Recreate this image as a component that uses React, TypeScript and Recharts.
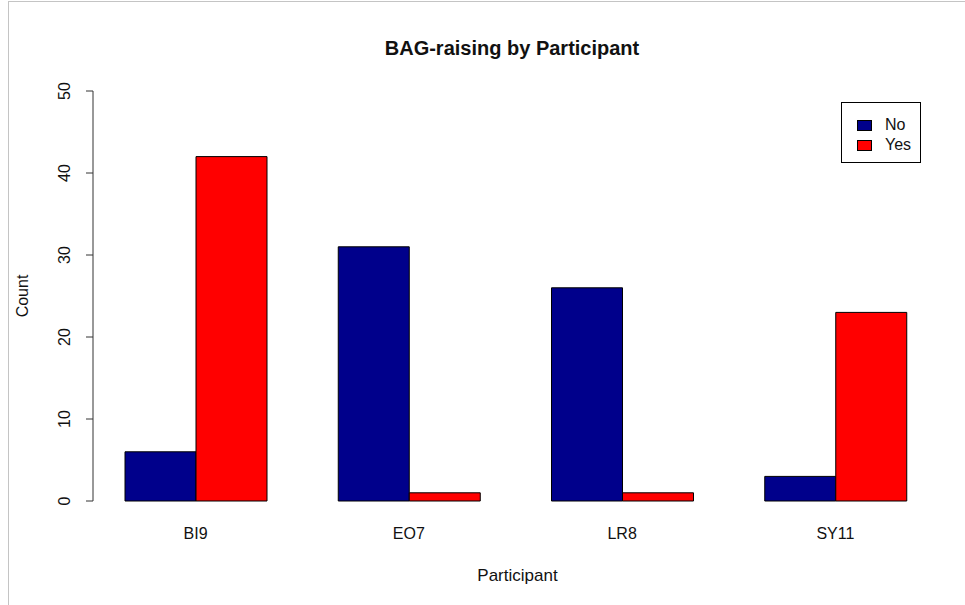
import { BarChart, Bar, XAxis, YAxis } from "recharts";

const participants = ["BI9", "EO7", "LR8", "SY11"];
const noCounts = [6, 31, 26, 3];
const yesCounts = [42, 1, 1, 23];
const yTicks = [0, 10, 20, 30, 40, 50];

const FONT = "'Liberation Sans', Arial, sans-serif";
const NO_COLOR = "#00008b";
const YES_COLOR = "#ff0000";

const data = participants.map((p, i) => ({
  participant: p,
  No: noCounts[i],
  Yes: yesCounts[i],
}));

function XTick(props: any) {
  const { x, y, payload } = props;
  return (
    <text
      x={x}
      y={y + 24}
      textAnchor="middle"
      dominantBaseline="central"
      fontSize={16}
      fontFamily={FONT}
      fill="#111"
    >
      {payload.value}
    </text>
  );
}

function YTick(props: any) {
  const { x, y, payload } = props;
  const cx = x - 20;
  return (
    <text
      x={cx}
      y={y}
      transform={`rotate(-90 ${cx} ${y})`}
      textAnchor="middle"
      dominantBaseline="central"
      fontSize={16}
      fontFamily={FONT}
      fill="#111"
    >
      {payload.value}
    </text>
  );
}

// legend drawn as an overlay so it doesn't eat plot space
function LegendBox() {
  const items = [
    { label: "No", color: NO_COLOR },
    { label: "Yes", color: YES_COLOR },
  ];
  return (
    <div
      style={{
        position: "absolute",
        left: 841,
        top: 102,
        width: 80,
        height: 61,
        border: "1px solid #000",
        background: "#fff",
        boxSizing: "border-box",
        paddingTop: 12,
        paddingLeft: 15,
        fontFamily: FONT,
        fontSize: 16,
        color: "#111",
      }}
    >
      {items.map((it) => (
        <div
          key={it.label}
          style={{ display: "flex", alignItems: "center", height: 20 }}
        >
          <div
            style={{
              width: 13,
              height: 9,
              background: it.color,
              border: "1px solid #000",
              marginRight: 13,
            }}
          />
          {it.label}
        </div>
      ))}
    </div>
  );
}

export default function App() {
  return (
    <div
      style={{
        position: "absolute",
        left: 0,
        top: 0,
        width: 965,
        height: 605,
        background: "#fff",
      }}
    >
      <div
        style={{
          position: "absolute",
          left: 8,
          top: 1,
          right: 0,
          bottom: 0,
          borderLeft: "1px solid #c4c4c4",
          borderTop: "1px solid #c4c4c4",
        }}
      />
      <div
        style={{
          position: "absolute",
          left: 0,
          top: 37,
          width: 1024,
          textAlign: "center",
          fontFamily: FONT,
          fontWeight: "bold",
          fontSize: 20,
          color: "#111",
        }}
      >
        BAG-raising by Participant
      </div>
      <div style={{ position: "absolute", left: 0, top: 0 }}>
        <BarChart
          width={965}
          height={605}
          data={data}
          margin={{ top: 91, right: 23, bottom: 0, left: 0 }}
          barCategoryGap={36}
          barGap={0}
        >
          <XAxis
            dataKey="participant"
            axisLine={false}
            tickLine={false}
            tick={<XTick />}
            height={104}
            padding={{ left: -4, right: 0 }}
            label={{
              value: "Participant",
              position: "insideBottom",
              offset: 24,
              fontSize: 17,
              fontFamily: FONT,
              fill: "#111",
            }}
          />
          <YAxis
            domain={[0, 50]}
            ticks={yTicks}
            width={93}
            tickSize={7}
            axisLine={{ stroke: "#333" }}
            tickLine={{ stroke: "#333" }}
            tick={<YTick />}
            label={() => (
              <text
                x={22}
                y={296}
                transform="rotate(-90 22 296)"
                textAnchor="middle"
                dominantBaseline="central"
                fontSize={16}
                fontFamily={FONT}
                fill="#111"
              >
                Count
              </text>
            )}
          />
          <Bar
            dataKey="No"
            fill={NO_COLOR}
            stroke="#000"
            strokeWidth={1}
            isAnimationActive={false}
          />
          <Bar
            dataKey="Yes"
            fill={YES_COLOR}
            stroke="#000"
            strokeWidth={1}
            isAnimationActive={false}
          />
        </BarChart>
      </div>
      <LegendBox />
    </div>
  );
}
